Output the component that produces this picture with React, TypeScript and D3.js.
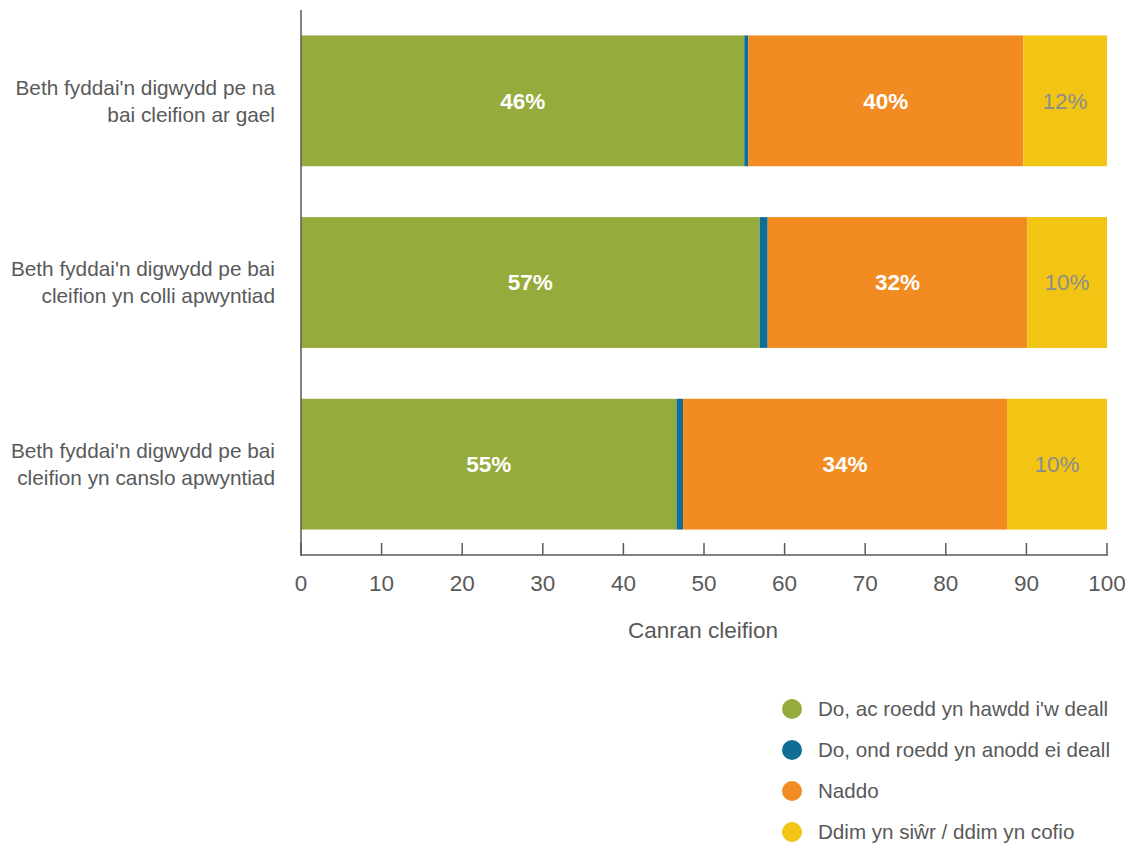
import React from "react";
import * as d3 from "d3";

const categories = [
  ["Beth fyddai'n digwydd pe na", "bai cleifion ar gael"],
  ["Beth fyddai'n digwydd pe bai", "cleifion yn colli apwyntiad"],
  ["Beth fyddai'n digwydd pe bai", "cleifion yn canslo apwyntiad"],
];
const seriesNames = [
  "Do, ac roedd yn hawdd i'w deall",
  "Do, ond roedd yn anodd ei deall",
  "Naddo",
  "Ddim yn siŵr / ddim yn cofio",
];
const easy = [55.0, 56.9, 46.6];
const hard = [0.5, 1.0, 0.8];
const no = [34.1, 32.2, 40.2];
const unsure = [10.4, 9.9, 12.4];
const labelEasy = ["46%", "57%", "55%"];
const labelHard = ["", "", ""];
const labelNo = ["40%", "32%", "34%"];
const labelUnsure = ["12%", "10%", "10%"];
const xTicks = [0, 10, 20, 30, 40, 50, 60, 70, 80, 90, 100];
const axisTitle = "Canran cleifion";

const colors = ["#95ab3c", "#106d93", "#f28b21", "#f2c515"];
const labelColors = ["#ffffff", "#ffffff", "#ffffff", "#8c8c8c"];
const labelWeights = ["bold", "bold", "bold", "normal"];
const FONT = "'Liberation Sans', Arial, sans-serif";

export default function App() {
  const W = 1130, H = 843;
  const x = d3.scaleLinear().domain([0, 100]).range([301, 1107]);
  const y = d3.scaleBand<number>().domain([0, 1, 2]).range([10, 555]).paddingInner(0.28).paddingOuter(0.14);
  const seriesVals = [easy, hard, no, unsure];
  const seriesLabels = [labelEasy, labelHard, labelNo, labelUnsure];
  const rows = categories.map((_, i) => {
    const obj: any = {};
    seriesVals.forEach((s, k) => (obj[k] = s[i]));
    return obj;
  });
  const stack = d3.stack<any>().keys([0, 1, 2, 3] as any)(rows);
  const axisY = 555;

  return (
    <svg width={W} height={H} style={{ display: "block", position: "absolute", left: 0, top: 0 }} fontFamily={FONT}>
      <rect width={W} height={H} fill="#fff" />
      {stack.map((layer, k) =>
        layer.map((d, i) => (
          <rect key={`${k}-${i}`} x={x(d[0])} y={y(i)} width={x(d[1]) - x(d[0])} height={y.bandwidth()} fill={colors[k]} />
        ))
      )}
      {stack.map((layer, k) =>
        layer.map((d, i) =>
          seriesLabels[k][i] ? (
            <text key={`l${k}-${i}`} x={(x(d[0]) + x(d[1])) / 2} y={y(i)! + y.bandwidth() / 2} dy="0.35em"
              textAnchor="middle" fontSize={22.5} fontWeight={labelWeights[k]} fill={labelColors[k]}>
              {seriesLabels[k][i]}
            </text>
          ) : null
        )
      )}
      {categories.map((lines, i) => (
        <text key={`c${i}`} textAnchor="end" fontSize={20.8} fill="#595959">
          {lines.map((ln, j) => (
            <tspan key={j} x={275} y={y(i)! + y.bandwidth() / 2 - 13.5 + j * 27} dy="0.35em">{ln}</tspan>
          ))}
        </text>
      ))}
      <line x1={301} x2={301} y1={10} y2={axisY} stroke="#595959" strokeWidth={1.5} />
      <line x1={300} x2={1108} y1={axisY} y2={axisY} stroke="#595959" strokeWidth={1.5} />
      {xTicks.map((t) => (
        <g key={t}>
          <line x1={x(t)} x2={x(t)} y1={axisY - 12} y2={axisY} stroke="#595959" strokeWidth={1.5} />
          <text x={x(t)} y={583} dy="0.35em" textAnchor="middle" fontSize={22.5} fill="#595959">{t}</text>
        </g>
      ))}
      <text x={703} y={630} dy="0.35em" textAnchor="middle" fontSize={22.5} fill="#595959">{axisTitle}</text>
      {seriesNames.map((n, k) => (
        <g key={n}>
          <circle cx={792} cy={709 + k * 41} r={10} fill={colors[k]} />
          <text x={818} y={709 + k * 41} dy="0.35em" fontSize={20.6} fill="#595959">{n}</text>
        </g>
      ))}
    </svg>
  );
}
